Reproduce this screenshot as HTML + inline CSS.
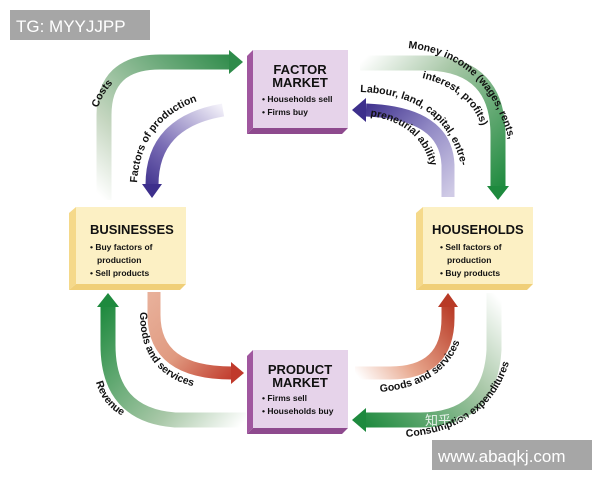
<!DOCTYPE html>
<html><head><meta charset="utf-8"><style>
html,body{margin:0;padding:0;background:#fff;}
svg{display:block;font-family:"Liberation Sans",Arial,sans-serif;}
</style></head><body>
<svg width="600" height="480" viewBox="0 0 600 480" xmlns="http://www.w3.org/2000/svg">
<defs>
<linearGradient id="gCost" gradientUnits="userSpaceOnUse" x1="104" y1="200" x2="240" y2="62"><stop offset="0" stop-color="#fff"/><stop offset="0.3" stop-color="#c5d6c0"/><stop offset="1" stop-color="#2e8b4a"/></linearGradient>
<linearGradient id="gFac" gradientUnits="userSpaceOnUse" x1="223" y1="107" x2="152" y2="195"><stop offset="0" stop-color="#f4f2fa"/><stop offset="0.6" stop-color="#7a6db5"/><stop offset="1" stop-color="#3d2f8c"/></linearGradient>
<linearGradient id="gMon" gradientUnits="userSpaceOnUse" x1="360" y1="63" x2="498" y2="195"><stop offset="0" stop-color="#fff"/><stop offset="0.35" stop-color="#a9c8a8"/><stop offset="1" stop-color="#1e8a3e"/></linearGradient>
<linearGradient id="gLab" gradientUnits="userSpaceOnUse" x1="448" y1="197" x2="358" y2="110"><stop offset="0" stop-color="#d0cbe6"/><stop offset="0.5" stop-color="#9088c4"/><stop offset="1" stop-color="#3d2f8c"/></linearGradient>
<linearGradient id="gGL" gradientUnits="userSpaceOnUse" x1="154" y1="292" x2="240" y2="373"><stop offset="0" stop-color="#e8b09a"/><stop offset="0.5" stop-color="#e09a80"/><stop offset="1" stop-color="#c0392b"/></linearGradient>
<linearGradient id="gRev" gradientUnits="userSpaceOnUse" x1="246" y1="420" x2="108" y2="300"><stop offset="0" stop-color="#fff"/><stop offset="0.35" stop-color="#a9c8a8"/><stop offset="1" stop-color="#1e8a3e"/></linearGradient>
<linearGradient id="gGR" gradientUnits="userSpaceOnUse" x1="355" y1="373" x2="448" y2="300"><stop offset="0" stop-color="#fff"/><stop offset="0.4" stop-color="#e8a88e"/><stop offset="1" stop-color="#b83a26"/></linearGradient>
<linearGradient id="gCon" gradientUnits="userSpaceOnUse" x1="494" y1="293" x2="358" y2="420"><stop offset="0" stop-color="#fff"/><stop offset="0.4" stop-color="#a9c8a8"/><stop offset="1" stop-color="#1e8a3e"/></linearGradient>
<path id="tCost" d="M98 108 Q106 82 133 70" fill="none"/>
<path id="tFac" d="M137 183 Q142 108 222 95" fill="none"/>
<path id="tMon" d="M408 48 Q508 58 518 195" fill="none"/>
<path id="tInt" d="M422 78 Q483 93 486 150" fill="none"/>
<path id="tLab" d="M360 92 Q461 95 465 196" fill="none"/>
<path id="tPre" d="M370 116 Q432 125 434 190" fill="none"/>
<path id="tGL" d="M140 312 Q139 387 222 390" fill="none"/>
<path id="tRev" d="M96 382 Q104 413 140 423" fill="none"/>
<path id="tGR" d="M380 392 Q458 385 465 318" fill="none"/>
<path id="tCon" d="M406 437 Q507 428 515 330" fill="none"/>
</defs>

<path d="M104 200 L104 115 Q104 62 160 62 L230 62" stroke="url(#gCost)" stroke-width="15" fill="none"/>
<polygon points="229,50 243,62 229,74" fill="#2e8b4a"/>
<path d="M223 110 Q152 122 152 185" stroke="url(#gFac)" stroke-width="13" fill="none"/>
<polygon points="142,184 162,184 152,198" fill="#3d2f8c"/>
<path d="M360 63 L430 63 Q498 66 498 135 L498 187" stroke="url(#gMon)" stroke-width="15" fill="none"/>
<polygon points="487,186 509,186 498,200" fill="#1e8a3e"/>
<path d="M448 197 L448 165 Q446 113 366 110" stroke="url(#gLab)" stroke-width="13" fill="none"/>
<polygon points="366,98 366,122 352,110" fill="#3d2f8c"/>
<path d="M154 292 L154 315 Q154 373 232 373" stroke="url(#gGL)" stroke-width="13" fill="none"/>
<polygon points="231,362 244,373 231,384" fill="#c0392b"/>
<path d="M246 420 L175 420 Q108 415 108 345 L108 306" stroke="url(#gRev)" stroke-width="15" fill="none"/>
<polygon points="97,307 119,307 108,293" fill="#1e8a3e"/>
<path d="M355 373 L390 373 Q448 373 448 318 L448 306" stroke="url(#gGR)" stroke-width="13" fill="none"/>
<polygon points="438,307 458,307 448,293" fill="#b83a26"/>
<path d="M494 293 L494 350 Q490 420 420 420 L365 420" stroke="url(#gCon)" stroke-width="15" fill="none"/>
<polygon points="366,408 366,432 352,420" fill="#1e8a3e"/>

<g font-weight="bold" font-size="10.5" fill="#111">
<text><textPath href="#tCost">Costs</textPath></text>
<text><textPath href="#tFac">Factors of production</textPath></text>
<text><textPath href="#tMon">Money income (wages, rents,</textPath></text>
<text><textPath href="#tInt">interest, profits)</textPath></text>
<text><textPath href="#tLab">Labour, land, capital, entre-</textPath></text>
<text><textPath href="#tPre">preneurial ability</textPath></text>
<text><textPath href="#tGL">Goods and services</textPath></text>
<text><textPath href="#tRev">Revenue</textPath></text>
<text><textPath href="#tGR">Goods and services</textPath></text>
<text><textPath href="#tCon">Consumption expenditures</textPath></text>
</g>

<polygon points="247,56 253,50 253,128 247,134" fill="#a0579f"/>
<polygon points="247,134 253,128 348,128 342,134" fill="#8e4a8e"/>
<rect x="253" y="50" width="95" height="78" fill="#e6d3ea"/>
<g font-weight="bold" fill="#111">
<text x="300" y="74" font-size="13" text-anchor="middle">FACTOR</text>
<text x="300" y="87" font-size="13" text-anchor="middle">MARKET</text>
<text x="262" y="102" font-size="8.5">• Households sell</text>
<text x="262" y="115" font-size="8.5">• Firms buy</text>
</g>

<polygon points="247,356 253,350 253,428 247,434" fill="#a0579f"/>
<polygon points="247,434 253,428 348,428 342,434" fill="#8e4a8e"/>
<rect x="253" y="350" width="95" height="78" fill="#e6d3ea"/>
<g font-weight="bold" fill="#111">
<text x="300" y="374" font-size="13" text-anchor="middle">PRODUCT</text>
<text x="300" y="387" font-size="13" text-anchor="middle">MARKET</text>
<text x="262" y="401" font-size="8.5">• Firms sell</text>
<text x="262" y="414" font-size="8.5">• Households buy</text>
</g>

<polygon points="69,213 76,207 76,284 69,290" fill="#f5d98a"/>
<polygon points="69,290 76,284 186,284 180,290" fill="#f0cf78"/>
<rect x="76" y="207" width="110" height="77" fill="#fcf0c4"/>
<g font-weight="bold" fill="#111">
<text x="90" y="234" font-size="13">BUSINESSES</text>
<text x="90" y="250" font-size="8.5">• Buy factors of</text>
<text x="97" y="263" font-size="8.5">production</text>
<text x="90" y="276" font-size="8.5">• Sell products</text>
</g>

<polygon points="416,213 423,207 423,284 416,290" fill="#f5d98a"/>
<polygon points="416,290 423,284 533,284 527,290" fill="#f0cf78"/>
<rect x="423" y="207" width="110" height="77" fill="#fcf0c4"/>
<g font-weight="bold" fill="#111">
<text x="432" y="234" font-size="13">HOUSEHOLDS</text>
<text x="440" y="250" font-size="8.5">• Sell factors of</text>
<text x="447" y="263" font-size="8.5">production</text>
<text x="440" y="276" font-size="8.5">• Buy products</text>
</g>

<text x="425" y="425" font-size="13" fill="#fff" opacity="0.85" font-family="'Liberation Sans','Noto Sans CJK SC',sans-serif">知乎 @欧洲韭黄</text>

<rect x="10" y="10" width="140" height="30" fill="#a6a6a6"/>
<text x="16" y="32" font-size="17" fill="#fff">TG: MYYJJPP</text>
<rect x="432" y="440" width="160" height="30" fill="#a6a6a6"/>
<text x="438" y="462" font-size="17" fill="#fff">www.abaqkj.com</text>
</svg>
</body></html>
